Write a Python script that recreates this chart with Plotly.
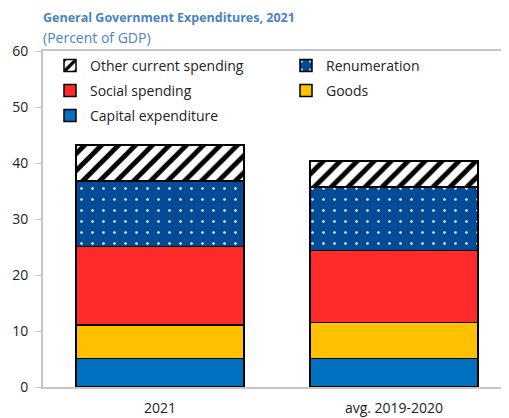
import plotly.graph_objects as go

categories = ["2021", "avg. 2019-2020"]
capital = [5.1, 5.1]
goods = [6.0, 6.4]
social = [14.0, 12.9]
renumeration = [11.7, 11.3]
other = [6.4, 4.7]

title_text = "<b>General Government Expenditures, 2021</b>"
subtitle_text = "(Percent of GDP)"
y_ticks = [0, 10, 20, 30, 40, 50, 60]

FONT = "Open Sans"
TITLE_COLOR = "#4a82c2"

W, H = 501, 410
ML, MR, MT, MB = 35, 0, 43, 31
PW = W - ML - MR
PH = H - MT - MB


def px_x(fx):
    return (fx - ML) / PW


def px_y(fy):
    return 1 - (fy - MT) / PH


fig = go.Figure()
line = dict(color="black", width=1.5)
fig.add_trace(go.Bar(name="Capital expenditure", x=categories, y=capital, legend="legend5",
                     marker=dict(color="#0070c0", line=line)))
fig.add_trace(go.Bar(name="Goods", x=categories, y=goods, legend="legend4",
                     marker=dict(color="#ffc000", line=line)))
fig.add_trace(go.Bar(name="Social spending", x=categories, y=social, legend="legend3",
                     marker=dict(color="#ff2b2b", line=line)))
fig.add_trace(go.Bar(name="Renumeration", x=categories, y=renumeration, legend="legend2",
                     marker=dict(color="#034b96", line=line,
                                 pattern=dict(shape=".", fgcolor="white", bgcolor="#034b96",
                                              size=11, solidity=0.04, fillmode="replace"))))
fig.add_trace(go.Bar(name="Other current spending", x=categories, y=other, legend="legend",
                     marker=dict(color="white", line=line,
                                 pattern=dict(shape="/", fgcolor="black", bgcolor="white",
                                              size=12, solidity=0.4, fillmode="replace"))))


def leg(fx, fy):
    return dict(x=px_x(fx - 36), y=px_y(fy), xanchor="left", yanchor="middle",
                bgcolor="rgba(0,0,0,0)", font=dict(size=14, family=FONT, color="#222222"),
                itemclick=False, itemdoubleclick=False)


fig.update_layout(
    barmode="stack",
    bargap=0.282,
    width=W, height=H,
    margin=dict(l=ML, r=MR, t=MT, b=MB),
    plot_bgcolor="white", paper_bgcolor="white",
    font=dict(family=FONT, size=14, color="#222222"),
    showlegend=True,
    legend=leg(78, 58),
    legend2=leg(314, 58),
    legend3=leg(78, 83),
    legend4=leg(314, 83),
    legend5=leg(78, 108),
    xaxis=dict(showline=True, linecolor="#c6c6c6", linewidth=2, mirror=True,
               ticks="", range=[-0.5, 1.4915], tickfont=dict(size=14),
               ticklabelstandoff=7),
    yaxis=dict(range=[0, 60], tickvals=y_ticks, showline=True, linecolor="#c6c6c6",
               linewidth=2, ticks="outside", ticklen=5, tickcolor="#c6c6c6",
               showgrid=False, zeroline=False, tickfont=dict(size=14),
               ticklabelstandoff=5),
    annotations=[
        dict(text=title_text, x=0, y=1, xref="paper", yref="paper", xanchor="left",
             yanchor="bottom", yshift=23, xshift=-2, showarrow=False,
             font=dict(size=12.5, color=TITLE_COLOR, family=FONT)),
        dict(text=subtitle_text, x=0, y=1, xref="paper", yref="paper", xanchor="left",
             yanchor="bottom", yshift=2, xshift=-2, showarrow=False,
             font=dict(size=14, color=TITLE_COLOR, family=FONT)),
    ],
)

fig.write_html("out.html")
